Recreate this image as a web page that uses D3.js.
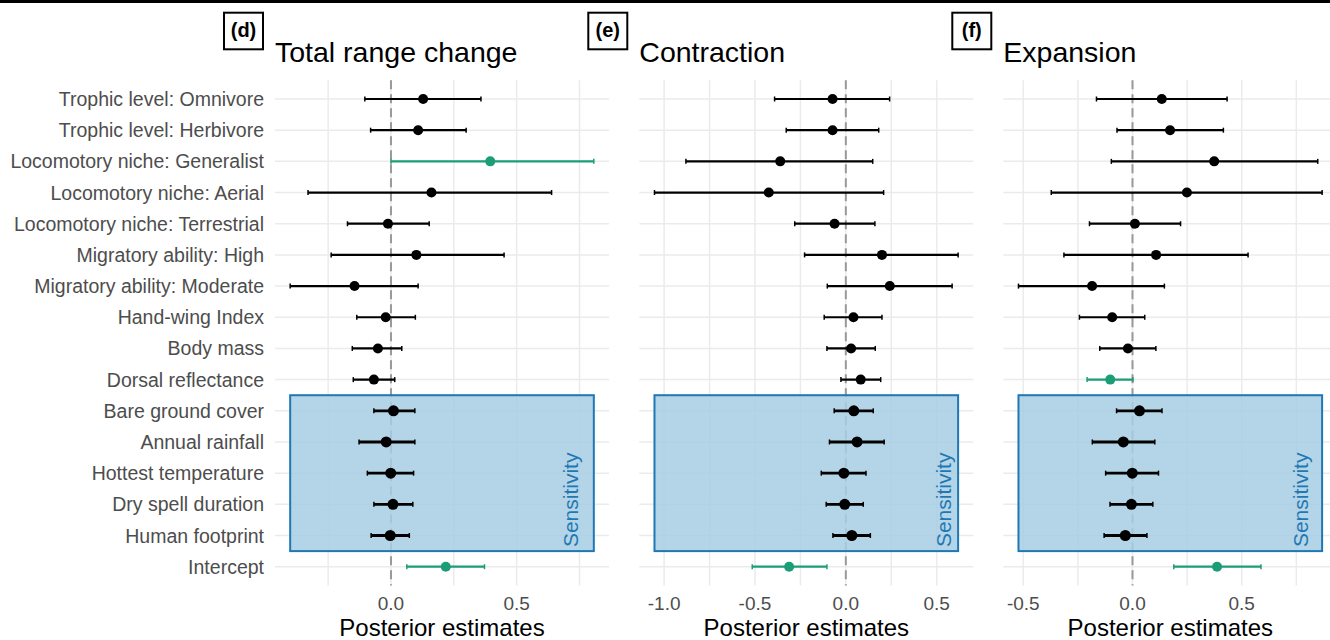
<!DOCTYPE html>
<html>
<head>
<meta charset="utf-8">
<script src="https://cdn.jsdelivr.net/npm/d3@7"></script>
<style>
    body { margin: 0; background: #fff; }
    text { font-family: "Liberation Sans", Arial, Helvetica, sans-serif; }
</style>
</head>
<body>
<div id="chart"></div>
<script>
// ---- data ----
const terms = [
    "Trophic level: Omnivore", "Trophic level: Herbivore", "Locomotory niche: Generalist",
    "Locomotory niche: Aerial", "Locomotory niche: Terrestrial", "Migratory ability: High",
    "Migratory ability: Moderate", "Hand-wing Index", "Body mass", "Dorsal reflectance",
    "Bare ground cover", "Annual rainfall", "Hottest temperature", "Dry spell duration",
    "Human footprint", "Intercept"
];
const sensitivityTerms = ["Bare ground cover", "Annual rainfall", "Hottest temperature", "Dry spell duration", "Human footprint"];

const panelTags = ["(d)", "(e)", "(f)"];
const panelTitles = ["Total range change", "Contraction", "Expansion"];

const totalEst = [0.128, 0.108, 0.395, 0.161, -0.012, 0.101, -0.145, -0.021, -0.052, -0.068, 0.010, -0.019, -0.001, 0.008, -0.003, 0.218];
const totalLo  = [-0.104, -0.081, 0.000, -0.330, -0.173, -0.238, -0.401, -0.136, -0.154, -0.150, -0.068, -0.127, -0.094, -0.068, -0.079, 0.063];
const totalHi  = [0.358, 0.299, 0.807, 0.639, 0.152, 0.450, 0.108, 0.097, 0.043, 0.015, 0.095, 0.095, 0.090, 0.087, 0.073, 0.372];
const totalHighlight = ["Locomotory niche: Generalist", "Intercept"];

const contractionEst = [-0.073, -0.073, -0.361, -0.424, -0.062, 0.199, 0.242, 0.042, 0.029, 0.082, 0.044, 0.062, -0.011, -0.006, 0.033, -0.312];
const contractionLo  = [-0.392, -0.328, -0.880, -1.053, -0.281, -0.227, -0.102, -0.119, -0.104, -0.027, -0.064, -0.090, -0.135, -0.108, -0.071, -0.515];
const contractionHi  = [0.241, 0.181, 0.148, 0.208, 0.160, 0.618, 0.585, 0.199, 0.162, 0.192, 0.151, 0.211, 0.111, 0.096, 0.135, -0.104];
const contractionHighlight = ["Intercept"];

const expansionEst = [0.134, 0.172, 0.374, 0.249, 0.011, 0.108, -0.185, -0.093, -0.021, -0.102, 0.032, -0.042, -0.001, -0.005, -0.033, 0.387];
const expansionLo  = [-0.165, -0.071, -0.097, -0.372, -0.197, -0.314, -0.522, -0.243, -0.150, -0.208, -0.073, -0.184, -0.123, -0.103, -0.130, 0.189];
const expansionHi  = [0.433, 0.416, 0.848, 0.868, 0.220, 0.529, 0.146, 0.056, 0.107, 0.002, 0.135, 0.102, 0.119, 0.093, 0.066, 0.588];
const expansionHighlight = ["Dorsal reflectance", "Intercept"];

const majorTicks = [[0, 0.5], [-1, -0.5, 0, 0.5], [-0.5, 0, 0.5]];
const minorTicks = [[-0.25, 0.25, 0.75], [-0.75, -0.25, 0.25], [-0.25, 0.25, 0.75]];

const axisTitle = "Posterior estimates";
const sensitivityLabel = "Sensitivity";

class ForestPanel {

    constructor(svg, cfg) {
        this.svg = svg;
        this.cfg = cfg;
        this.data = terms.map((t, i) => ({
            term: t, est: cfg.est[i], lo: cfg.lo[i], hi: cfg.hi[i],
            green: cfg.highlight.includes(t),
            sens: sensitivityTerms.includes(t)
        }));
        this.initVis();
    }

    initVis() {
        let vis = this;
        let c = vis.cfg;

        vis.left = c.left;
        vis.width = 334;
        vis.top = 80.3;
        vis.bottom = 585.4;

        vis.y = d3.scalePoint()
            .domain(terms)
            .range([vis.top, vis.bottom])
            .padding(0.6);

        // ggplot-style 5% expansion around the interval range
        let lo = d3.min(vis.data, d => d.lo);
        let hi = d3.max(vis.data, d => d.hi);
        let pad = (hi - lo) * 0.05;
        vis.x = d3.scaleLinear()
            .domain([lo - pad, hi + pad])
            .range([vis.left, vis.left + vis.width]);

        vis.g = vis.svg.append("g");

        // grid
        vis.g.selectAll(".hgrid")
            .data(terms)
            .enter().append("line")
            .attr("x1", vis.left).attr("x2", vis.left + vis.width)
            .attr("y1", d => vis.y(d)).attr("y2", d => vis.y(d))
            .attr("stroke", "#ebebeb").attr("stroke-width", 1.5);

        vis.g.selectAll(".vgrid")
            .data(c.major.concat(c.minor))
            .enter().append("line")
            .attr("x1", d => vis.x(d)).attr("x2", d => vis.x(d))
            .attr("y1", vis.top).attr("y2", vis.bottom)
            .attr("stroke", "#ebebeb").attr("stroke-width", 1.5);

        // zero reference
        vis.g.append("line")
            .attr("x1", vis.x(0)).attr("x2", vis.x(0))
            .attr("y1", vis.top).attr("y2", vis.bottom)
            .attr("stroke", "#999").attr("stroke-width", 2)
            .attr("stroke-dasharray", "9,5");

        // sensitivity box
        let step = vis.y.step();
        let ry0 = vis.y(sensitivityTerms[0]) - step / 2;
        let ry1 = vis.y(sensitivityTerms[sensitivityTerms.length - 1]) + step / 2;
        vis.g.append("rect")
            .attr("x", vis.x(lo)).attr("y", ry0)
            .attr("width", vis.x(hi) - vis.x(lo)).attr("height", ry1 - ry0)
            .attr("fill", "#a6cee3").attr("fill-opacity", 0.85)
            .attr("stroke", "#1f78b4").attr("stroke-width", 2);

        vis.g.append("text")
            .attr("transform", `translate(${vis.x(hi) - c.labelInset}, ${ry1 - 4}) rotate(-90)`)
            .attr("font-size", 21)
            .attr("fill", "#1f78b4")
            .text(sensitivityLabel);

        // intervals
        let rows = vis.g.selectAll(".row")
            .data(vis.data)
            .enter().append("g")
            .attr("class", "row");

        rows.append("line")
            .attr("x1", d => vis.x(d.lo)).attr("x2", d => vis.x(d.hi))
            .attr("y1", d => vis.y(d.term)).attr("y2", d => vis.y(d.term))
            .attr("stroke", d => d.green ? "#1b9e77" : "#000")
            .attr("stroke-width", d => d.sens ? 2.8 : 2.2);

        rows.selectAll(".cap")
            .data(d => [d.lo, d.hi].map(v => ({ v: v, d: d })))
            .enter().append("line")
            .attr("x1", e => vis.x(e.v)).attr("x2", e => vis.x(e.v))
            .attr("y1", e => vis.y(e.d.term) - 2.5).attr("y2", e => vis.y(e.d.term) + 2.5)
            .attr("stroke", e => e.d.green ? "#1b9e77" : "#000")
            .attr("stroke-width", 1.5);

        rows.append("circle")
            .attr("cx", d => vis.x(d.est))
            .attr("cy", d => vis.y(d.term))
            .attr("r", d => d.sens ? 5.5 : 5)
            .attr("fill", d => d.green ? "#1b9e77" : "#000");

        // x axis labels
        vis.g.selectAll(".tick-label")
            .data(c.major)
            .enter().append("text")
            .attr("x", d => vis.x(d)).attr("y", 610)
            .attr("text-anchor", "middle")
            .attr("font-size", 19)
            .attr("fill", "#4d4d4d")
            .text(d => d3.format(".1f")(d).replace("−", "-"));

        vis.g.append("text")
            .attr("x", vis.left + vis.width / 2).attr("y", 636)
            .attr("text-anchor", "middle")
            .attr("font-size", 24)
            .attr("fill", "#000")
            .text(axisTitle);

        // title + tag
        vis.g.append("text")
            .attr("x", vis.left).attr("y", 61.7)
            .attr("font-size", 28.5)
            .attr("fill", "#000")
            .text(c.title);

        let tagX = vis.left - 12 - 39;
        vis.g.append("rect")
            .attr("x", tagX).attr("y", 12.7)
            .attr("width", 39).attr("height", 36.6)
            .attr("fill", "none").attr("stroke", "#000").attr("stroke-width", 2);
        vis.g.append("text")
            .attr("x", tagX + 19.5).attr("y", 37)
            .attr("text-anchor", "middle")
            .attr("font-size", 20).attr("font-weight", "bold")
            .attr("fill", "#000")
            .text(c.tag);

        // y labels only on first panel
        if (c.showLabels) {
            vis.g.selectAll(".ylab")
                .data(terms)
                .enter().append("text")
                .attr("x", vis.left - 11)
                .attr("y", d => vis.y(d))
                .attr("dy", "0.36em")
                .attr("text-anchor", "end")
                .attr("font-size", 19.5)
                .attr("fill", "#4d4d4d")
                .text(d => d);
        }
    }
}

const svg = d3.select("#chart").append("svg")
    .attr("width", 1330)
    .attr("height", 640);

svg.append("rect")
    .attr("x", 0).attr("y", 0)
    .attr("width", 1330).attr("height", 3)
    .attr("fill", "#000");

new ForestPanel(svg, { left: 275, est: totalEst, lo: totalLo, hi: totalHi, highlight: totalHighlight,
    major: majorTicks[0], minor: minorTicks[0], title: panelTitles[0], tag: panelTags[0], labelInset: 16, showLabels: true });
new ForestPanel(svg, { left: 639.3, est: contractionEst, lo: contractionLo, hi: contractionHi, highlight: contractionHighlight,
    major: majorTicks[1], minor: minorTicks[1], title: panelTitles[1], tag: panelTags[1], labelInset: 7, showLabels: false });
new ForestPanel(svg, { left: 1003.3, est: expansionEst, lo: expansionLo, hi: expansionHi, highlight: expansionHighlight,
    major: majorTicks[2], minor: minorTicks[2], title: panelTitles[2], tag: panelTags[2], labelInset: 14, showLabels: false });
</script>
</body>
</html>
